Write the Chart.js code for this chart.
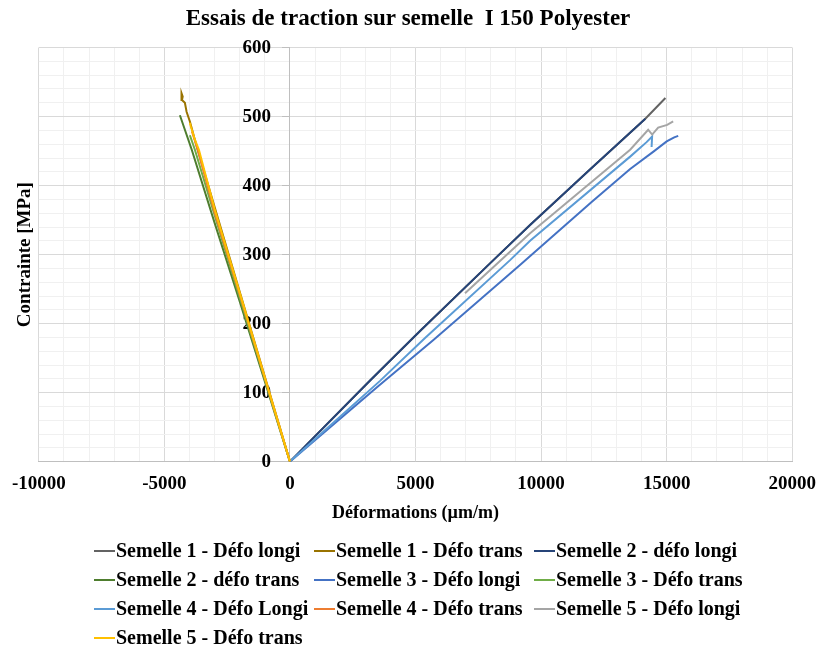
<!DOCTYPE html>
<html>
<head>
<meta charset="utf-8">
<script src="https://cdn.jsdelivr.net/npm/chart.js@4"></script>
<style>
  body { margin: 0; background: #fff; }
</style>
</head>
<body>
<canvas id="chart" width="818" height="651"></canvas>
<script>
// x = déformation (µm/m), y = contrainte (MPa)
const semelle1Longi = [[0, 0], [3200, 118], [5200, 190], [8100, 292], [9560, 343], [12000, 425], [14150, 497], [14950, 527]];
const semelle1Trans = [[0, 0], [-1950, 240], [-3700, 455], [-3984, 493], [-4116, 507], [-4183, 520], [-4300, 524], [-4335, 530], [-4300, 534], [-4270, 529], [-4300, 524]];
const semelle2Longi = [[0, 0], [3200, 118], [5200, 190], [8100, 292], [9560, 343], [12000, 425], [14150, 497]];
const semelle2Trans = [[0, 0], [-1000, 116], [-2000, 232], [-3000, 346], [-3910, 452], [-4382, 502]];
const semelle3Longi = [[0, 0], [3500, 109], [5700, 176], [9160, 285], [12000, 376], [13546, 424], [14500, 450], [15000, 464], [15300, 470], [15460, 472]];
const semelle3Trans = [[0, 0], [-1000, 119], [-2000, 238], [-3000, 357], [-3785, 452], [-3984, 473]];
const semelle4Longi = [[0, 0], [3586, 117], [5378, 179], [8765, 292], [9562, 320], [13546, 442], [14200, 463], [14420, 471], [14400, 456]];
const semelle4Trans = [[0, 0], [-1000, 121], [-1950, 236], [-3000, 361], [-3670, 452], [-3900, 478]];
const semelle5Longi = [[6970, 244], [9562, 331], [13546, 452], [14263, 481], [14422, 474], [14661, 484], [15020, 488], [15259, 493]];
const semelle5Trans = [[0, 0], [-1000, 122], [-1912, 234], [-3000, 366], [-3625, 452], [-3800, 468], [-3880, 478], [-3950, 486], [-3984, 491]];

const seriesLabels = [
  "Semelle 1 - Défo longi", "Semelle 1 - Défo trans", "Semelle 2 - défo longi",
  "Semelle 2 - défo trans", "Semelle 3 - Défo longi", "Semelle 3 - Défo trans",
  "Semelle 4 - Défo Longi", "Semelle 4 - Défo trans", "Semelle 5 - Défo longi",
  "Semelle 5 - Défo trans",
];
const seriesData = [
  semelle1Longi, semelle1Trans, semelle2Longi, semelle2Trans, semelle3Longi,
  semelle3Trans, semelle4Longi, semelle4Trans, semelle5Longi, semelle5Trans,
];
const seriesColors = [
  "#636363", "#997300", "#264478", "#4E7D2E", "#4472C4",
  "#70AD47", "#5B9BD5", "#ED7D31", "#A5A5A5", "#FFC000",
];

const xTicks = { min: -10000, max: 20000, major: 5000, minor: 1000 };
const yTicks = { min: 0, max: 600, major: 100, minor: 20 };

const serif = "'Liberation Serif', 'Times New Roman', serif";

// légende en grille (3 colonnes) comme dans Excel
const gridLegend = {
  id: "gridLegend",
  afterDraw(chart) {
    let ctx = chart.ctx;
    ctx.save();
    ctx.font = "bold 20px " + serif;
    ctx.textBaseline = "middle";
    ctx.fillStyle = "#000";
    chart.data.datasets.forEach((ds, i) => {
      let x = 94 + (i % 3) * 220;
      let y = 551 + Math.floor(i / 3) * 29;
      ctx.strokeStyle = ds.borderColor;
      ctx.lineWidth = 2;
      ctx.beginPath();
      ctx.moveTo(x, y);
      ctx.lineTo(x + 21, y);
      ctx.stroke();
      ctx.fillText(ds.label, x + 22, y + 1);
    });
    ctx.restore();
  },
};

let datasets = seriesData.map((pts, i) => ({
  label: seriesLabels[i],
  data: pts.map((p) => ({ x: p[0], y: p[1] })),
  showLine: true,
  borderColor: seriesColors[i],
  backgroundColor: seriesColors[i],
  borderWidth: 2,
  pointRadius: 0,
  order: -i,
}));

let gridColor = (major) => (ctx) =>
  ctx.tick && ctx.tick.value % major === 0 ? "#d9d9d9" : "#f0f0f0";
let tickColor = (major) => (ctx) =>
  ctx.tick && ctx.tick.value % major === 0 ? "#bfbfbf" : "rgba(0,0,0,0)";

new Chart(document.getElementById("chart"), {
  type: "scatter",
  data: { datasets: datasets },
  plugins: [gridLegend],
  options: {
    responsive: false,
    animation: false,
    layout: {
      padding: { left: 14, right: 16, top: 0, bottom: 127 },
    },
    plugins: {
      legend: { display: false },
      tooltip: { enabled: false },
      title: {
        display: true,
        text: "Essais de traction sur semelle  I 150 Polyester",
        color: "#000",
        font: { family: serif, size: 23, weight: "bold" },
        padding: { top: 5, bottom: 15 },
      },
    },
    scales: {
      x: {
        type: "linear",
        position: "bottom",
        min: xTicks.min,
        max: xTicks.max,
        border: { color: "#bfbfbf", width: 1 },
        grid: {
          color: gridColor(xTicks.major),
          tickColor: "rgba(0,0,0,0)",
          tickLength: 9,
        },
        ticks: {
          stepSize: xTicks.minor,
          autoSkip: false,
          maxRotation: 0,
          padding: 2,
          color: "#000",
          font: { family: serif, size: 19, weight: "bold" },
          callback: (v) => (v % xTicks.major === 0 ? String(v) : ""),
        },
        title: {
          display: true,
          text: "Déformations (µm/m)",
          color: "#000",
          font: { family: serif, size: 18, weight: "bold" },
          padding: { top: 5, bottom: 0 },
        },
      },
      y: {
        type: "linear",
        position: { x: 0 },
        min: yTicks.min,
        max: yTicks.max,
        border: { color: "#bfbfbf", width: 1 },
        grid: {
          color: gridColor(yTicks.major),
          tickColor: tickColor(yTicks.major),
          tickLength: 7,
        },
        ticks: {
          stepSize: yTicks.minor,
          autoSkip: false,
          color: "#000",
          font: { family: serif, size: 19, weight: "bold" },
          // the axis sits at x = 0, labels need a gap to its left
          callback: (v) => (v % yTicks.major === 0 ? String(v) + "    " : ""),
        },
      },
      yTitle: {
        type: "linear",
        axis: "y",
        position: "left",
        min: yTicks.min,
        max: yTicks.max,
        border: { display: false },
        grid: { display: false, drawTicks: false },
        ticks: { display: false },
        title: {
          display: true,
          text: "Contrainte [MPa]",
          color: "#000",
          font: { family: serif, size: 19, weight: "bold" },
          padding: { top: 0, bottom: 2 },
        },
      },
    },
  },
});
</script>
</body>
</html>
